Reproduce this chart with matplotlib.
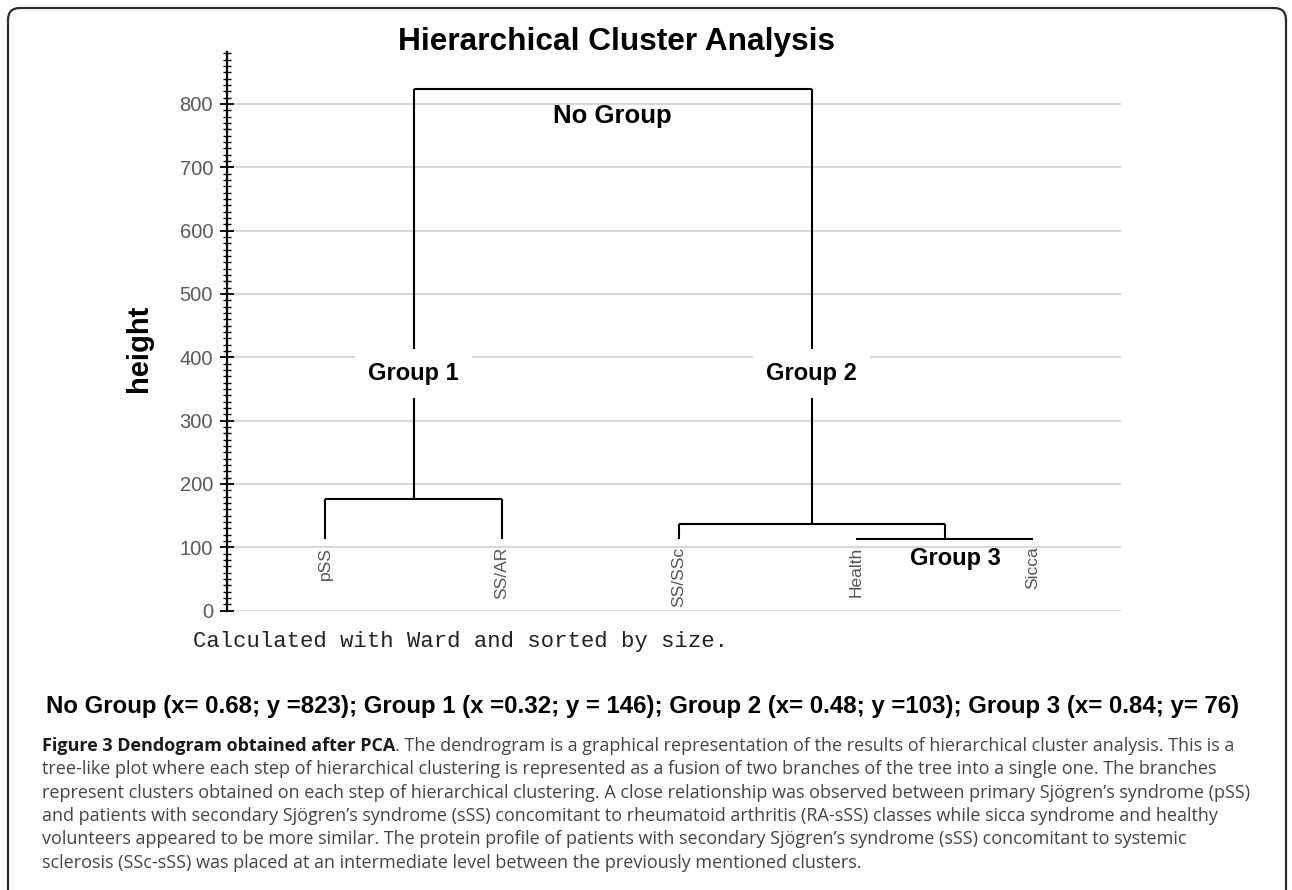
import matplotlib
matplotlib.use("Agg")
import matplotlib.pyplot as plt
from matplotlib.patches import FancyBboxPatch
from matplotlib.ticker import MultipleLocator

plt.rcParams['font.family'] = ['Liberation Sans', 'DejaVu Sans']

# ---------------- data ----------------
leaves = ['pSS', 'SS/AR', 'SS/SSc', 'Health', 'Sicca']
leaf_height = 113
# merges: (name, left child, right child, height)
merge_names = ['Group 3', 'Group 2', 'Group 1', 'No Group']
merge_left = ['Health', 'SS/SSc', 'pSS', 'Group 1']
merge_right = ['Sicca', 'Group 3', 'SS/AR', 'Group 2']
merge_heights = [113, 137, 177, 824]
yticks = [0, 100, 200, 300, 400, 500, 600, 700, 800]

title = 'Hierarchical Cluster Analysis'
ylabel = 'height'
method_note = 'Calculated with Ward and sorted by size.'
coords_line = ('No Group (x= 0.68; y =823); Group 1 (x =0.32; y = 146); '
               'Group 2 (x= 0.48; y =103); Group 3 (x= 0.84; y= 76)')
caption_bold = 'Figure 3 Dendogram obtained after PCA'
caption_lines = [
    '. The dendrogram is a graphical representation of the results of hierarchical cluster analysis. This is a',
    'tree-like plot where each step of hierarchical clustering is represented as a fusion of two branches of the tree into a single one. The branches',
    'represent clusters obtained on each step of hierarchical clustering. A close relationship was observed between primary Sjögren\u2019s syndrome (pSS)',
    'and patients with secondary Sjögren\u2019s syndrome (sSS) concomitant to rheumatoid arthritis (RA-sSS) classes while sicca syndrome and healthy',
    'volunteers appeared to be more similar. The protein profile of patients with secondary Sjögren\u2019s syndrome (sSS) concomitant to systemic',
    'sclerosis (SSc-sSS) was placed at an intermediate level between the previously mentioned clusters.',
]

# ---------------- figure ----------------
W, H = 1292, 890
fig = plt.figure(figsize=(W / 100, H / 100), dpi=100)
fig.patch.set_facecolor('white')
renderer = fig.canvas.get_renderer()


def fit_width(t, target):
    w = t.get_window_extent(renderer).width
    t.set_fontsize(t.get_fontsize() * target / w)
    return t.get_fontsize()


bg = fig.add_axes([0, 0, 1, 1])
bg.set_xlim(0, W)
bg.set_ylim(H, 0)
bg.axis('off')
bg.add_patch(FancyBboxPatch((8, 8), 1278, 920,
                            boxstyle='round,pad=0,rounding_size=12',
                            fill=False, ec='#2b2b2b', lw=1.6))

ax_left, ax_right = 227, 1121
ax_top, ax_bottom = 52, 610.6
ax = fig.add_axes([ax_left / W, 1 - ax_bottom / H,
                   (ax_right - ax_left) / W, (ax_bottom - ax_top) / H])
ax.set_facecolor('none')

pos = {name: i + 1 for i, name in enumerate(leaves)}
hgt = {name: leaf_height for name in leaves}
line_kw = dict(color='black', lw=1.5, solid_capstyle='butt', zorder=3)
for name, l, r, h in zip(merge_names, merge_left, merge_right, merge_heights):
    xl, xr = pos[l], pos[r]
    ax.plot([xl, xl], [hgt[l], h], **line_kw)
    ax.plot([xr, xr], [hgt[r], h], **line_kw)
    ax.plot([xl, xr], [h, h], **line_kw)
    pos[name] = (xl + xr) / 2
    hgt[name] = h

for name in leaves:
    ax.text(pos[name], 101, name, rotation=90, ha='center', va='top',
            fontsize=12.5, color='#555555', zorder=4)

box = dict(boxstyle='square,pad=0.55', fc='white', ec='none')
ax.text(pos['Group 1'], 375, 'Group 1', ha='center', va='center',
        fontsize=17, fontweight='bold', bbox=box, zorder=5)
ax.text(pos['Group 2'], 375, 'Group 2', ha='center', va='center',
        fontsize=17, fontweight='bold', bbox=box, zorder=5)
ax.text(pos['Group 3'] + 0.06, 83, 'Group 3', ha='center', va='center',
        fontsize=17, fontweight='bold', zorder=5)
ax.text(pos['No Group'], 781, 'No Group', ha='center', va='center',
        fontsize=18.5, fontweight='bold', zorder=5)

ax.set_xlim(0.446, 5.497)
ax.set_ylim(0, 882)
ax.set_yticks(yticks)
ax.yaxis.set_minor_locator(MultipleLocator(10))
ax.set_xticks([])
ax.tick_params(axis='y', which='major', direction='inout', length=10,
               width=1.3, pad=5, labelsize=14.5, labelcolor='#5a5a5a')
ax.tick_params(axis='y', which='minor', direction='inout', length=5.5,
               width=1.0)
for s in ['top', 'right', 'bottom']:
    ax.spines[s].set_visible(False)
ax.spines['left'].set_linewidth(1.6)
ax.yaxis.grid(True, which='major', color='#d8d8d8', lw=1.5)
ax.set_axisbelow(True)
ax.set_ylabel(ylabel, fontsize=21, fontweight='bold')
ax.yaxis.set_label_coords(-0.083, 0.47)

# texts outside the axes
bg.text(616, 42, title, ha='center', va='center', fontsize=22.8,
        fontweight='bold')
bg.text(193, 642, method_note, ha='left', va='center', fontsize=16,
        family='Liberation Mono', color='#222222')
tc = bg.text(643, 707, coords_line, ha='center', va='center', fontsize=15,
             fontweight='bold')
fit_width(tc, 1200)

cap_x, cap_y0, cap_dy = 42, 746, 23.3
cap_font = ['Open Sans', 'DejaVu Sans']
probe = bg.text(cap_x, cap_y0, caption_lines[2], ha='left', va='center',
                fontsize=12, family=cap_font)
cap_size = fit_width(probe, 1204)
probe.remove()

tb = bg.text(cap_x, cap_y0, caption_bold, ha='left', va='center',
             fontsize=cap_size, fontweight='bold', family=cap_font,
             color='#1a1a1a')
bb = tb.get_window_extent(renderer)
x_end = bg.transData.inverted().transform((bb.x1, bb.y0))[0]
for i, line in enumerate(caption_lines):
    x0 = x_end if i == 0 else cap_x
    bg.text(x0, cap_y0 + i * cap_dy, line, ha='left', va='center',
            fontsize=cap_size, family=cap_font, color='#444444')

fig.savefig('out.png', dpi=100, facecolor='white')
